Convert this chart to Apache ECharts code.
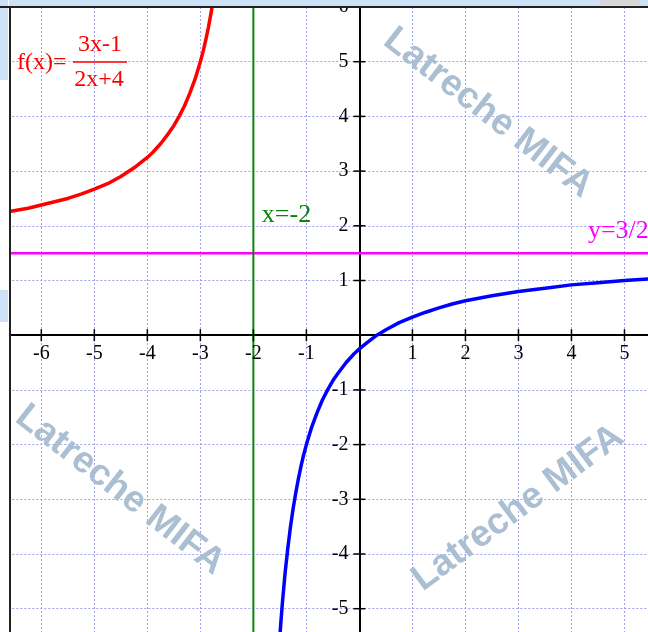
<!DOCTYPE html>
<html>
<head>
<meta charset="utf-8">
<script src="https://cdn.jsdelivr.net/npm/echarts@6/dist/echarts.min.js"></script>
<style>
  html, body { margin: 0; padding: 0; background: #fff; }
  #main { width: 648px; height: 632px; }
</style>
</head>
<body>
<div id="main"></div>
<script>
// points, f(x) = (3x-1)/(2x+4)
var redBranch = [
  [-6.6, 2.26], [-6.25, 2.32], [-6, 2.38], [-5.75, 2.44], [-5.5, 2.5], [-5.25, 2.58],
  [-5, 2.67], [-4.75, 2.77], [-4.5, 2.9], [-4.25, 3.06], [-4, 3.25], [-3.9, 3.34],
  [-3.75, 3.5], [-3.6, 3.69], [-3.5, 3.83], [-3.4, 4.0], [-3.3, 4.19], [-3.2, 4.42],
  [-3.1, 4.68], [-3, 5.0], [-2.95, 5.18], [-2.9, 5.39], [-2.85, 5.62], [-2.8, 5.88],
  [-2.75, 6.17], [-2.7, 6.5], [-2.6, 7.33]
];
var blueBranch = [
  [-1.55, -6.28], [-1.5, -5.5], [-1.48, -5.23], [-1.45, -4.86], [-1.42, -4.54],
  [-1.4, -4.33], [-1.35, -3.89], [-1.3, -3.5], [-1.25, -3.17], [-1.2, -2.88],
  [-1.15, -2.62], [-1.1, -2.39], [-1.05, -2.18], [-1, -2.0], [-0.9, -1.68],
  [-0.8, -1.42], [-0.7, -1.19], [-0.6, -1.0], [-0.5, -0.83], [-0.4, -0.69],
  [-0.25, -0.5], [-0.1, -0.34], [0, -0.25], [0.15, -0.13], [0.33, 0.0], [0.5, 0.1],
  [0.75, 0.23], [1, 0.33], [1.25, 0.42], [1.5, 0.5], [1.75, 0.57], [2, 0.63],
  [2.5, 0.72], [3, 0.8], [3.5, 0.86], [4, 0.92], [4.5, 0.96], [5, 1.0], [5.5, 1.03]
];
var vertAsym = [[-2, -7], [-2, 7]];
var horizAsym = [[-7, 1.5], [7, 1.5]];
var xTicks = [-6, -5, -4, -3, -2, -1, 1, 2, 3, 4, 5];
var yTicks = [-5, -4, -3, -2, -1, 1, 2, 3, 4, 5, 6];
var vertLabel = [[-1.84, 2.2]];
var horizLabel = [[4.31, 1.9]];

var serif = 'Liberation Serif';
var chart = echarts.init(document.getElementById('main'), null, { renderer: 'canvas' });

function watermark(x, y, rot) {
  return {
    type: 'text', x: x, y: y, rotation: rot, z: 50,
    style: {
      text: 'Latreche MIFA', fill: '#abbfd3',
      font: 'bold 37px "Liberation Sans"',
      align: 'center', verticalAlign: 'middle'
    }
  };
}

var gridLine = { show: true, lineStyle: { color: '#a0a0f2', type: [2, 2], width: 1 } };

var option = {
  animation: false,
  grid: {
    left: -11.7, right: -29.5, top: 7, bottom: -31.4,
    outerBoundsMode: 'none'
  },
  xAxis: {
    type: 'value', min: -7, max: 6, interval: 1,
    axisLine: { onZero: true, lineStyle: { color: '#000', width: 2 } },
    axisTick: { show: false },
    axisLabel: { show: false },
    splitLine: gridLine
  },
  yAxis: {
    type: 'value', min: -6, max: 6, interval: 1,
    axisLine: { onZero: true, lineStyle: { color: '#000', width: 2 } },
    axisTick: { show: false },
    axisLabel: { show: false },
    splitLine: gridLine
  },
  series: [
    {
      type: 'line', data: horizAsym, symbol: 'none', z: 3,
      lineStyle: { color: '#ff00ff', width: 2.5 }
    },
    {
      type: 'line', data: vertAsym, symbol: 'none', z: 3,
      lineStyle: { color: '#0a840a', width: 2 }
    },
    {
      type: 'line', data: redBranch, symbol: 'none', z: 4,
      lineStyle: { color: '#ff0000', width: 3.5, join: 'round' }
    },
    {
      type: 'line', data: blueBranch, symbol: 'none', z: 4,
      lineStyle: { color: '#0000ff', width: 3.5, join: 'round' }
    },
    {
      // x ticks crossing the axis, with their labels
      type: 'scatter', z: 5, symbol: 'rect', symbolSize: [1.5, 12],
      itemStyle: { color: '#000', opacity: 1 },
      label: {
        show: true, position: 'bottom', distance: 3,
        formatter: function (p) { return String(p.value[0]); },
        color: '#000', fontFamily: serif, fontSize: 20
      },
      data: xTicks.map(function (t) { return [t, 0]; })
    },
    {
      type: 'scatter', z: 5, symbol: 'rect', symbolSize: [12, 1.5],
      itemStyle: { color: '#000', opacity: 1 },
      label: {
        show: true, position: 'left', distance: 5,
        formatter: function (p) { return String(p.value[1]); },
        color: '#000', fontFamily: serif, fontSize: 20
      },
      data: yTicks.map(function (t) { return [0, t]; })
    },
    {
      type: 'scatter', z: 6, symbolSize: 0, data: vertLabel,
      itemStyle: { opacity: 1 },
      label: {
        show: true, position: 'inside', align: 'left', verticalAlign: 'middle',
        formatter: 'x=-2', color: '#0a840a', fontFamily: serif, fontSize: 26
      }
    },
    {
      type: 'scatter', z: 6, symbolSize: 0, data: horizLabel,
      itemStyle: { opacity: 1 },
      label: {
        show: true, position: 'inside', align: 'left', verticalAlign: 'middle',
        formatter: 'y=3/2', color: '#ff00ff', fontFamily: serif, fontSize: 26
      }
    }
  ],
  graphic: [
    watermark(488, 113, -0.66),
    watermark(120, 490, -0.66),
    watermark(518, 508, 0.64),
    // formula
    {
      type: 'text', x: 17, y: 63, z: 60,
      style: { text: 'f(x)=', fill: '#ff0000', font: '24px "Liberation Serif"', verticalAlign: 'middle' }
    },
    {
      type: 'text', x: 100, y: 45, z: 60,
      style: { text: '3x-1', fill: '#ff0000', font: '24px "Liberation Serif"', align: 'center', verticalAlign: 'middle' }
    },
    {
      type: 'line', z: 60,
      shape: { x1: 73, y1: 62, x2: 127, y2: 62 },
      style: { stroke: '#ff0000', lineWidth: 1.5 }
    },
    {
      type: 'text', x: 99, y: 80, z: 60,
      style: { text: '2x+4', fill: '#ff0000', font: '24px "Liberation Serif"', align: 'center', verticalAlign: 'middle' }
    },
    // window frame
    { type: 'rect', z: 100, shape: { x: 0, y: 0, width: 648, height: 6 }, style: { fill: '#cde2f6' } },
    { type: 'rect', z: 100, shape: { x: 600, y: 0, width: 40, height: 5 }, style: { fill: '#d6d6d6' } },
    { type: 'rect', z: 101, shape: { x: 0, y: 6, width: 648, height: 2 }, style: { fill: '#222' } },
    { type: 'rect', z: 100, shape: { x: 0, y: 0, width: 9, height: 632 }, style: { fill: '#fff' } },
    { type: 'rect', z: 100, shape: { x: 0, y: 0, width: 8, height: 80 }, style: { fill: '#cde2f6' } },
    { type: 'rect', z: 100, shape: { x: 0, y: 290, width: 8, height: 32 }, style: { fill: '#cde2f6' } },
    { type: 'rect', z: 101, shape: { x: 9, y: 6, width: 2, height: 626 }, style: { fill: '#222' } }
  ]
};

chart.setOption(option);
</script>
</body>
</html>
